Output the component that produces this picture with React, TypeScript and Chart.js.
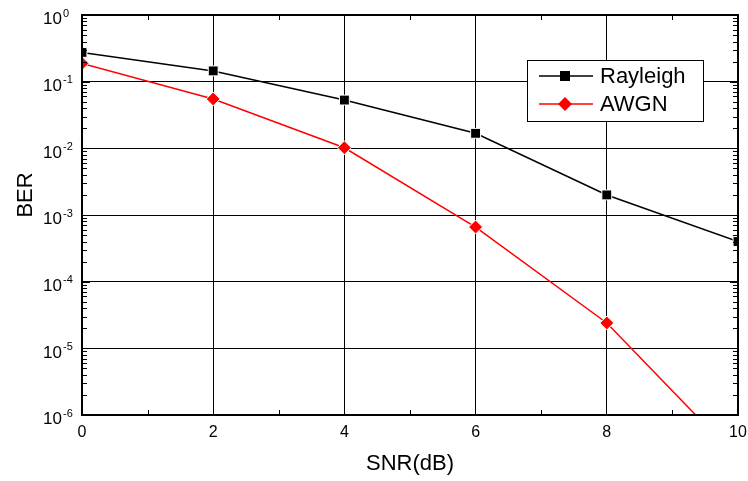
import React, { useEffect, useRef } from "react";
import { Chart, registerables } from "chart.js";

Chart.register(...registerables);

const snr = [0, 2, 4, 6, 8, 10];
const rayleigh = [0.275, 0.145, 0.053, 0.0168, 0.002, 0.0004];
const awgn = [0.188, 0.055, 0.0102, 0.00066, 0.000024, 0.00000022];
const xTicks = [0, 2, 4, 6, 8, 10];
const yExponents = [0, -1, -2, -3, -4, -5, -6];
const seriesNames = ["Rayleigh", "AWGN"];
const FONT = "'Liberation Sans', Arial, sans-serif";

const decorPlugin = {
  id: "decor",
  afterDatasetsDraw(chart: any) {
    const { ctx, chartArea, scales } = chart;
    const { left, right, top, bottom } = chartArea;
    const ys = scales.y;
    const xs = scales.x;
    ctx.save();
    ctx.strokeStyle = "#000";
    ctx.lineWidth = 1;
    ctx.beginPath();
    for (let k = -6; k < 0; k++) {
      for (let m = 2; m <= 9; m++) {
        const py = Math.round(ys.getPixelForValue(m * Math.pow(10, k))) + 0.5;
        ctx.moveTo(left, py); ctx.lineTo(left + 5, py);
        ctx.moveTo(right, py); ctx.lineTo(right - 5, py);
      }
    }
    for (const e of yExponents) {
      const py = Math.round(ys.getPixelForValue(Math.pow(10, e))) + 0.5;
      ctx.moveTo(left, py); ctx.lineTo(left + 8, py);
      ctx.moveTo(right, py); ctx.lineTo(right - 8, py);
    }
    for (let v = 1; v < 10; v += 2) {
      const px = Math.round(xs.getPixelForValue(v)) + 0.5;
      ctx.moveTo(px, bottom); ctx.lineTo(px, bottom - 5);
      ctx.moveTo(px, top); ctx.lineTo(px, top + 5);
    }
    ctx.stroke();
    ctx.lineWidth = 2;
    ctx.strokeRect(left, top, right - left, bottom - top);
    ctx.restore();
  },
  afterDraw(chart: any) {
    const { ctx, scales } = chart;
    const ys = scales.y;
    ctx.save();
    ctx.fillStyle = "#000";
    for (const e of yExponents) {
      const py = ys.getPixelForValue(Math.pow(10, e));
      ctx.font = `17px ${FONT}`;
      ctx.textAlign = "right";
      ctx.textBaseline = "middle";
      ctx.fillText("10", 62, py + 4.5);
      ctx.font = `11px ${FONT}`;
      ctx.textAlign = "left";
      ctx.fillText(String(e), 63, py - 1.5);
    }
    ctx.save();
    ctx.translate(26, 195);
    ctx.rotate(-Math.PI / 2);
    ctx.font = `22px ${FONT}`;
    ctx.textAlign = "center";
    ctx.textBaseline = "middle";
    ctx.fillText("BER", 0, 0);
    ctx.restore();
    const lx = 527, ly = 60, lw = 176, lh = 61;
    ctx.fillStyle = "#fff";
    ctx.fillRect(lx, ly, lw, lh);
    ctx.strokeStyle = "#000";
    ctx.lineWidth = 1;
    ctx.strokeRect(lx + 0.5, ly + 0.5, lw, lh);
    const rows = [
      { name: seriesNames[0], color: "#000", y: 76, shape: "rect" },
      { name: seriesNames[1], color: "#ff0000", y: 104, shape: "diamond" },
    ];
    for (const r of rows) {
      ctx.strokeStyle = r.color;
      ctx.lineWidth = 1.5;
      ctx.beginPath();
      ctx.moveTo(539, r.y);
      ctx.lineTo(593, r.y);
      ctx.stroke();
      ctx.fillStyle = r.color;
      ctx.beginPath();
      if (r.shape === "rect") {
        ctx.rect(565 - 5, r.y - 5, 10, 10);
      } else {
        ctx.moveTo(565, r.y - 7);
        ctx.lineTo(572, r.y);
        ctx.lineTo(565, r.y + 7);
        ctx.lineTo(558, r.y);
        ctx.closePath();
      }
      ctx.fill();
      ctx.fillStyle = "#000";
      ctx.font = `22px ${FONT}`;
      ctx.textAlign = "left";
      ctx.textBaseline = "middle";
      ctx.fillText(r.name, 600, r.y + 1);
    }
    ctx.restore();
  },
};

export default function App() {
  const ref = useRef<HTMLCanvasElement>(null);
  useEffect(() => {
    if (!ref.current) return;
    const chart = new Chart(ref.current, {
      type: "line",
      data: {
        datasets: [
          {
            label: seriesNames[0],
            data: snr.map((x, i) => ({ x, y: rayleigh[i] })),
            borderColor: "#000",
            backgroundColor: "#000",
            borderWidth: 1.5,
            pointStyle: "rect",
            pointRadius: 7,
            pointBackgroundColor: "#000",
            pointBorderColor: "#fff",
            pointBorderWidth: 1,
            clip: 0,
          },
          {
            label: seriesNames[1],
            data: snr.map((x, i) => ({ x, y: awgn[i] })),
            borderColor: "#ff0000",
            backgroundColor: "#ff0000",
            borderWidth: 1.5,
            pointStyle: "rectRot",
            pointRadius: 7,
            pointBackgroundColor: "#ff0000",
            pointBorderColor: "#fff",
            pointBorderWidth: 1,
            clip: 0,
          },
        ],
      },
      options: {
        responsive: false,
        animation: false,
        layout: { padding: { left: 0, right: 10, top: 15, bottom: 0 } },
        plugins: { legend: { display: false }, tooltip: { enabled: false } },
        scales: {
          x: {
            type: "linear",
            min: 0,
            max: 10,
            afterBuildTicks: (s: any) => {
              s.ticks = xTicks.map((v) => ({ value: v }));
            },
            afterFit: (s: any) => {
              s.height = 66;
              s.paddingLeft = 0;
              s.paddingRight = 0;
            },
            ticks: {
              color: "#000",
              font: { family: FONT, size: 16 },
              padding: 8,
              maxRotation: 0,
            },
            grid: { color: "#000", lineWidth: 1, drawTicks: false },
            border: { display: false },
            title: {
              display: true,
              text: "SNR(dB)",
              color: "#000",
              font: { family: FONT, size: 22 },
              padding: { top: 4, bottom: 4 },
            },
          },
          y: {
            type: "logarithmic",
            min: 1e-6,
            max: 1,
            afterBuildTicks: (s: any) => {
              s.ticks = yExponents.map((e) => ({ value: Math.pow(10, e), major: true }));
            },
            afterFit: (s: any) => {
              s.width = 82;
              s.paddingTop = 0;
              s.paddingBottom = 0;
            },
            ticks: { display: false },
            grid: { color: "#000", lineWidth: 1, drawTicks: false },
            border: { display: false },
          },
        },
      },
      plugins: [decorPlugin],
    });
    return () => chart.destroy();
  }, []);
  return (
    <div style={{ position: "fixed", left: 0, top: 0, width: 748, height: 481, background: "#fff" }}>
      <canvas ref={ref} width={748} height={481} style={{ display: "block" }} />
    </div>
  );
}
